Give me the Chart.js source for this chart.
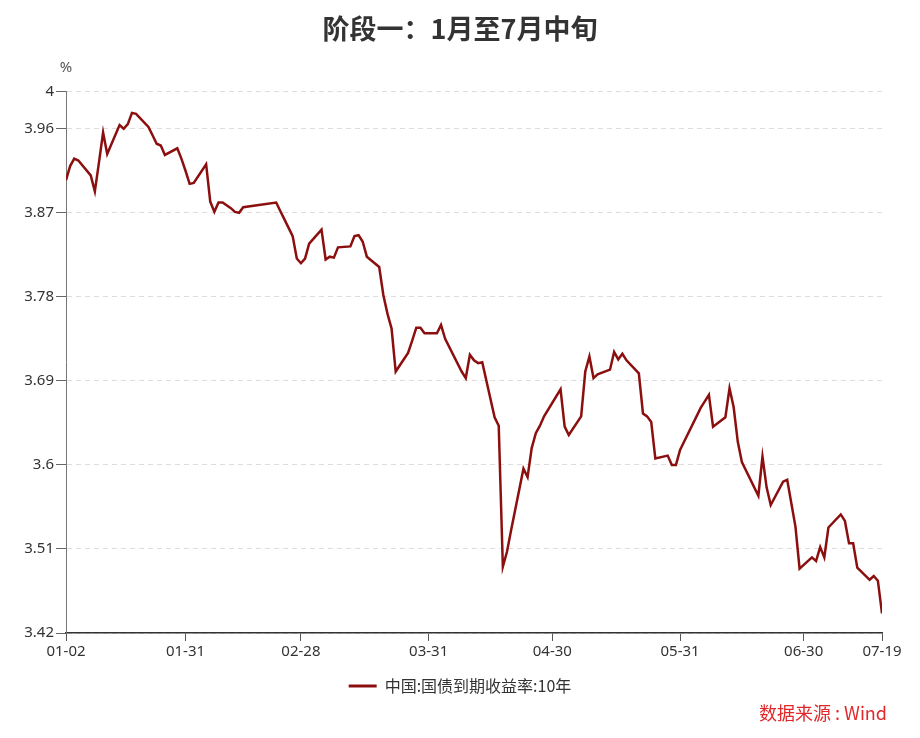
<!DOCTYPE html>
<html lang="zh-CN">
<head>
  <meta charset="UTF-8" />
  <title>阶段一：1月至7月中旬</title>
  <script src="https://cdn.jsdelivr.net/npm/chart.js"></script>
  <style>
    html, body { margin: 0; padding: 0; background: #fff; }
    #wrap { width: 920px; height: 738px; }
  </style>
</head>
<body>
  <div id="wrap">
    <canvas id="yieldChart" width="920" height="738"></canvas>
  </div>

  <script>
    // 2018 trading days (MM-DD) and 10Y China government bond yield (%)
    const dates = [
      '01-02','01-03','01-04','01-05','01-08','01-09','01-10','01-11','01-12','01-15',
      '01-16','01-17','01-18','01-19','01-22','01-23','01-24','01-25','01-26','01-29',
      '01-30','01-31','02-01','02-02','02-05','02-06','02-07','02-08','02-09','02-11',
      '02-12','02-13','02-14','02-22','02-23','02-24','02-26','02-27','02-28','03-01',
      '03-02','03-05','03-06','03-07','03-08','03-09','03-12','03-13','03-14','03-15',
      '03-16','03-19','03-20','03-21','03-22','03-23','03-26','03-27','03-28','03-29',
      '03-30','04-02','04-03','04-04','04-08','04-09','04-10','04-11','04-12','04-13',
      '04-16','04-17','04-18','04-19','04-20','04-23','04-24','04-25','04-26','04-27',
      '04-28','05-02','05-03','05-04','05-07','05-08','05-09','05-10','05-11','05-14',
      '05-15','05-16','05-17','05-18','05-21','05-22','05-23','05-24','05-25','05-28',
      '05-29','05-30','05-31','06-01','06-04','06-05','06-06','06-07','06-08','06-11',
      '06-12','06-13','06-14','06-15','06-19','06-20','06-21','06-22','06-25','06-26',
      '06-27','06-28','06-29','07-02','07-03','07-04','07-05','07-06','07-09','07-10',
      '07-11','07-12','07-13','07-16','07-17','07-18','07-19'
    ];
    const yields = [
      3.905, 3.920, 3.928, 3.926, 3.910, 3.893, 3.924, 3.956, 3.933, 3.964,
      3.960, 3.965, 3.977, 3.976, 3.962, 3.953, 3.944, 3.942, 3.932, 3.939,
      3.928, 3.915, 3.901, 3.902, 3.922, 3.882, 3.871, 3.881, 3.881, 3.875,
      3.871, 3.870, 3.876, 3.881, 3.872, 3.863, 3.845, 3.821, 3.816, 3.821,
      3.837, 3.852, 3.820, 3.823, 3.822, 3.833, 3.834, 3.845, 3.846, 3.839,
      3.823, 3.812, 3.782, 3.762, 3.746, 3.700, 3.720, 3.733, 3.747, 3.747,
      3.741, 3.741, 3.750, 3.735, 3.700, 3.693, 3.718, 3.712, 3.709, 3.710,
      3.651, 3.642, 3.491, 3.507, 3.530, 3.596, 3.587, 3.618, 3.634, 3.642,
      3.652, 3.681, 3.641, 3.632, 3.652, 3.700, 3.716, 3.693, 3.697, 3.702,
      3.721, 3.713, 3.719, 3.712, 3.698, 3.655, 3.652, 3.646, 3.607, 3.610,
      3.600, 3.600, 3.616, 3.625, 3.652, 3.661, 3.668, 3.675, 3.641, 3.651,
      3.682, 3.662, 3.625, 3.603, 3.567, 3.609, 3.576, 3.557, 3.582, 3.584,
      3.559, 3.534, 3.489, 3.501, 3.497, 3.512, 3.501, 3.533, 3.547, 3.540,
      3.516, 3.516, 3.490, 3.477, 3.481, 3.476, 3.441
    ];
    const xTickLabels = ['01-02', '01-31', '02-28', '03-31', '04-30', '05-31', '06-30', '07-19'];
    const yTicks = [3.42, 3.51, 3.6, 3.69, 3.78, 3.87, 3.96, 4];

    const seriesName = '中国:国债到期收益率:10年';
    const lineColor = '#8b0f0f';
    const year = 2018;

    // day offset from the first date, so the x axis is calendar-linear
    function dayOf(md) {
      const [m, d] = md.split('-').map(Number);
      const t0 = Date.UTC(year, 0, 2);
      return Math.round((Date.UTC(year, m - 1, d) - t0) / 86400000);
    }

    const points = dates.map((d, i) => ({ x: dayOf(d), y: yields[i] }));
    const xTickDays = xTickLabels.map(dayOf);

    // extra texts: unit label and source
    const extras = {
      id: 'extras',
      afterDraw(chart) {
        const ctx = chart.ctx;
        ctx.save();
        ctx.fillStyle = '#555';
        ctx.font = '15px "Noto Sans", "Noto Sans CJK SC", sans-serif';
        ctx.textAlign = 'center';
        ctx.textBaseline = 'middle';
        ctx.fillText('%', chart.chartArea.left, 68);
        ctx.fillStyle = '#e0272b';
        ctx.font = '18px "Noto Sans CJK SC", sans-serif';
        ctx.textAlign = 'right';
        ctx.fillText('数据来源 : Wind', 887, 713);
        ctx.restore();
      }
    };

    const ctx = document.getElementById('yieldChart').getContext('2d');
    new Chart(ctx, {
      type: 'line',
      data: {
        datasets: [{
          label: seriesName,
          data: points,
          borderColor: lineColor,
          backgroundColor: lineColor,
          borderWidth: 2.5,
          pointRadius: 0,
          tension: 0
        }]
      },
      options: {
        responsive: false,
        animation: false,
        layout: { padding: { left: 0, right: 0, top: 0, bottom: 34 } },
        plugins: {
          title: {
            display: true,
            text: '阶段一：1月至7月中旬',
            color: '#333',
            font: { family: '"Noto Sans CJK SC", sans-serif', size: 27, weight: 'bold' },
            padding: { top: 13, bottom: 46 }
          },
          legend: {
            position: 'bottom',
            labels: {
              color: '#333',
              font: { family: '"Noto Sans CJK SC", sans-serif', size: 16 },
              boxWidth: 28,
              boxHeight: 3,
              padding: 10,
              generateLabels(chart) {
                const items = Chart.defaults.plugins.legend.labels.generateLabels(chart);
                items.forEach(it => { it.lineWidth = 0; it.fillStyle = lineColor; });
                return items;
              }
            }
          },
          tooltip: { enabled: false }
        },
        scales: {
          x: {
            type: 'linear',
            min: 0,
            max: dayOf('07-19'),
            afterBuildTicks(scale) {
              scale.ticks = xTickDays.map(v => ({ value: v }));
            },
            afterFit(scale) { scale.height = 35; },
            ticks: {
              color: '#333',
              font: { family: '"Noto Sans", sans-serif', size: 15 },
              padding: 2,
              maxRotation: 0,
              autoSkip: false,
              callback(v) {
                const i = xTickDays.indexOf(v);
                return i >= 0 ? xTickLabels[i] : '';
              }
            },
            grid: {
              drawOnChartArea: false,
              drawTicks: true,
              tickLength: 8,
              tickColor: '#555'
            },
            border: { color: '#333', width: 1.5 }
          },
          y: {
            min: 3.42,
            max: 4,
            afterBuildTicks(scale) {
              scale.ticks = yTicks.map(v => ({ value: v }));
            },
            afterFit(scale) { scale.width = 66; },
            ticks: {
              color: '#333',
              font: { family: '"Noto Sans", sans-serif', size: 15 },
              padding: 2,
              callback: v => String(Number(v.toFixed(2)))
            },
            grid: {
              color: '#dedede',
              lineWidth: 1,
              tickLength: 10,
              tickColor: '#666'
            },
            border: { color: '#777', width: 1, dash: [5, 4] }
          },
          // empty right-hand spacer so the title and legend centre on the page
          spacer: {
            type: 'linear',
            position: 'right',
            afterFit(scale) { scale.width = 38; },
            ticks: { display: false },
            grid: { display: false },
            border: { display: false }
          }
        }
      },
      plugins: [extras]
    });
  </script>
</body>
</html>
